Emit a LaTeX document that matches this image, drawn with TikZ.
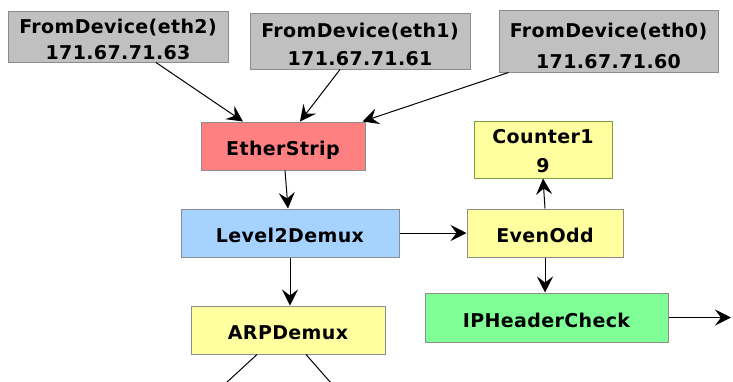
\documentclass[tikz,border=0pt]{standalone}
\usepackage{fontspec}
\setmainfont{DejaVu Sans}[LetterSpace=2]
\usetikzlibrary{arrows.meta}

\definecolor{devgrey}{RGB}{192,192,192}
\definecolor{edgegrey}{RGB}{140,140,140}
\definecolor{stripred}{RGB}{255,128,128}
\definecolor{demuxblue}{RGB}{166,210,255}
\definecolor{paleyellow}{RGB}{255,255,160}
\definecolor{checkgreen}{RGB}{128,255,150}
\definecolor{olive}{RGB}{120,160,60}

\begin{document}
\begin{tikzpicture}[x=1pt,y=-1pt,
  elem/.style={draw=edgegrey, line width=1pt, inner sep=0pt, align=center,
    font=\fontsize{19}{28}\selectfont\bfseries, text height=19pt, text depth=0pt},
  % two-line text: line gap #1, text height #2 (places the last baseline)
  lines/.style 2 args={font=\fontsize{19}{#1}\selectfont\bfseries,
    text depth=0pt, text height=#2pt},
  arr/.style={-{Stealth[length=16pt,width=16pt,inset=6pt]}, line width=1pt, black}]
  \useasboundingbox (0,0) rectangle (733,381);

  % packet sources
  \node[elem, lines={26}{45}, fill=devgrey, minimum width=220pt, minimum height=51pt] (eth2) at (118,36.5)
    {FromDevice(eth2)\\171.67.71.63};
  \node[elem, lines={28}{48}, fill=devgrey, minimum width=220pt, minimum height=56pt] (eth1) at (360,41)
    {FromDevice(eth1)\\171.67.71.61};
  \node[elem, lines={31}{54}, fill=devgrey, minimum width=219pt, minimum height=62pt] (eth0) at (608.5,41)
    {FromDevice(eth0)\\171.67.71.60};

  % processing elements
  \node[elem, fill=stripred, minimum width=164pt, minimum height=48pt] (ether) at (283,146) {EtherStrip};
  \node[elem, fill=demuxblue, minimum width=218pt, minimum height=48pt] (l2) at (290,233) {Level2Demux};
  \node[elem, fill=paleyellow, minimum width=194pt, minimum height=48pt] (arp) at (288,330) {ARPDemux};
  \node[elem, lines={29}{45}, fill=paleyellow, draw=olive, minimum width=138pt, minimum height=57pt] (cnt) at (543,149.5)
    {Counter1\\9};
  \node[elem, fill=paleyellow, minimum width=156pt, minimum height=48pt] (eo) at (545,233) {EvenOdd};
  \node[elem, fill=checkgreen, minimum width=243pt, minimum height=49pt] (ip) at (546.5,317.5) {IPHeaderCheck};

  % loose ends leaving the frame
  \coordinate (out) at (731,317.5);
  \coordinate (arpa) at (226,383);
  \coordinate (arpb) at (331,383);

  % connections
  \draw[arr] ([xshift=38pt]eth2.south) -- ([xshift=-40pt]ether.north);
  \draw[arr] ([xshift=-20pt]eth1.south) -- ([xshift=17pt]ether.north);
  \draw[arr] ([xshift=-100pt]eth0.south) -- ([xshift=-3pt]ether.north east);
  \draw[arr] ([xshift=2pt]ether.south) -- ([xshift=-2pt]l2.north);
  \draw[arr] (l2.south) -- (l2.south |- arp.north);
  \draw[arr] (l2.east) -- (eo.west);
  \draw[arr] (eo.north) -- (cnt.south);
  \draw[arr] (eo.south) -- (eo.south |- ip.north);
  \draw[arr] (ip.east) -- (out);
  \draw[line width=1pt] ([xshift=-31pt]arp.south) -- (arpa);
  \draw[line width=1pt] ([xshift=18pt]arp.south) -- (arpb);
\end{tikzpicture}
\end{document}
